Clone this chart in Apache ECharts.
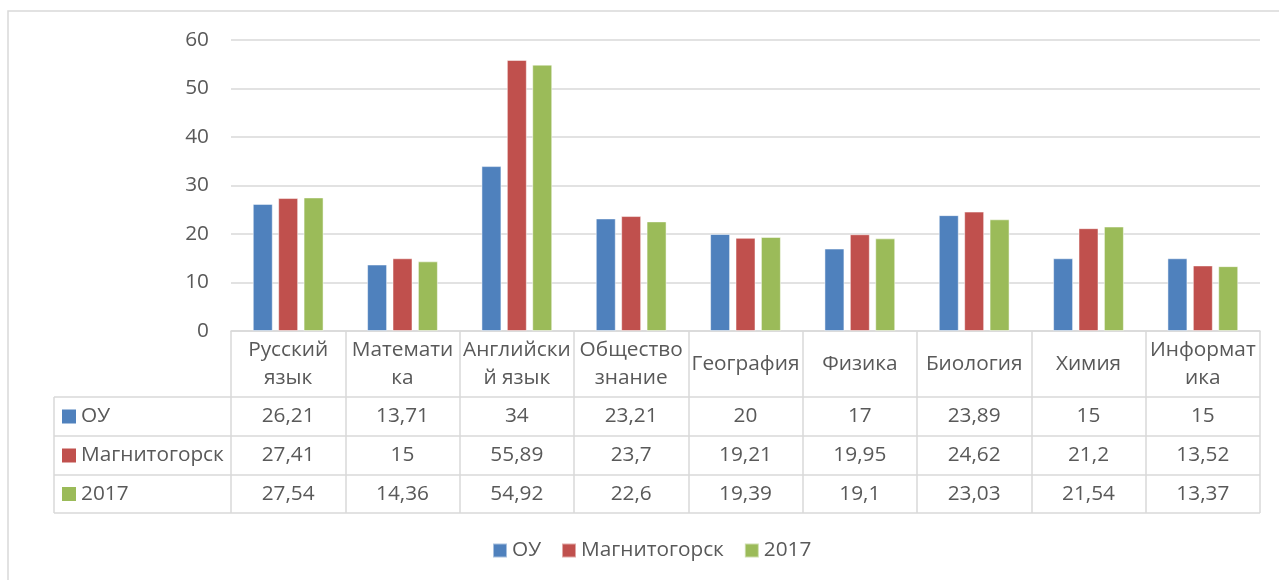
<!DOCTYPE html>
<html>
<head>
<meta charset="utf-8">
<script src="https://cdn.jsdelivr.net/npm/echarts@6/dist/echarts.min.js"></script>
<style>html,body{margin:0;padding:0;background:#fff}#c{width:1279px;height:580px}</style>
</head>
<body>
<div id="c"></div>
<script>
const categories = ['Русский\nязык', 'Математи\nка', 'Английски\nй язык', 'Общество\nзнание', 'География', 'Физика', 'Биология', 'Химия', 'Информат\nика'];
const seriesNames = ['ОУ', 'Магнитогорск', '2017'];
const valuesOU = [26.21, 13.71, 34, 23.21, 20, 17, 23.89, 15, 15];
const valuesMag = [27.41, 15, 55.89, 23.7, 19.21, 19.95, 24.62, 21.2, 13.52];
const values2017 = [27.54, 14.36, 54.92, 22.6, 19.39, 19.1, 23.03, 21.54, 13.37];
const colors = ['#4F81BD', '#C0504D', '#9BBB59'];
const yTicks = { min: 0, max: 60, interval: 10 };

const allValues = [valuesOU, valuesMag, values2017];
const FONT = '"Open Sans", sans-serif';
const TXT = '#595959';
const LINE = '#d9d9d9';
const FS = 20.8;

const chart = echarts.init(document.getElementById('c'), null, { renderer: 'canvas' });

const gridL = 231, gridR = 1260, axisY = 331;
const rowTop = [397, 436, 475];
const rowBot = 513;
const tableLeft = 54;

const fmt = v => String(v).replace('.', ',');

const extraAxes = allValues.map((vals, i) => ({
  type: 'category',
  gridIndex: 0,
  position: 'bottom',
  data: categories,
  axisLine: { show: false },
  axisTick: { show: false },
  splitLine: { show: false },
  axisLabel: {
    interval: 0,
    margin: (rowTop[i] + (i < 2 ? rowTop[i + 1] : rowBot)) / 2 - axisY,
    verticalAlign: 'middle',
    fontFamily: FONT, fontSize: FS, color: TXT,
    formatter: (val, idx) => fmt(vals[idx])
  }
}));

const graphics = [
  { type: 'rect', shape: { x: 8, y: 11, width: 1300, height: 620 }, style: { fill: 'none', stroke: LINE, lineWidth: 1.5 }, z: -1 },
  { type: 'line', shape: { x1: tableLeft, y1: rowTop[0], x2: tableLeft, y2: rowBot }, style: { stroke: LINE, lineWidth: 1.5 } }
];
rowTop.concat([rowBot]).forEach(y => {
  graphics.push({ type: 'line', shape: { x1: tableLeft, y1: y, x2: gridR, y2: y }, style: { stroke: LINE, lineWidth: 1.5 } });
});
seriesNames.forEach((n, i) => {
  const yc = (rowTop[i] + (i < 2 ? rowTop[i + 1] : rowBot)) / 2;
  graphics.push({ type: 'rect', shape: { x: 62, y: yc - 7, width: 14, height: 14 }, style: { fill: colors[i] } });
  graphics.push({ type: 'text', x: 81, y: yc, style: { text: n, fontFamily: FONT, fontSize: FS, fill: TXT, verticalAlign: 'middle', align: 'left' } });
});

chart.setOption({
  animation: false,
  textStyle: { fontFamily: FONT },
  grid: { left: gridL, right: 1279 - gridR, top: 40, bottom: 580 - axisY, containLabel: false },
  legend: {
    data: seriesNames,
    left: 487,
    top: 535,
    icon: 'rect',
    itemWidth: 14, itemHeight: 14, itemGap: 20,
    textStyle: { fontFamily: FONT, fontSize: FS, color: TXT }
  },
  xAxis: [{
    type: 'category',
    data: categories,
    axisLine: { show: true, lineStyle: { color: LINE, width: 1.5 } },
    axisTick: { show: true, length: rowBot - axisY, lineStyle: { color: LINE, width: 1.5 } },
    axisLabel: {
      interval: 0, margin: (axisY + rowTop[0]) / 2 - axisY, verticalAlign: 'middle',
      fontFamily: FONT, fontSize: FS, color: TXT, lineHeight: 28
    }
  }].concat(extraAxes),
  yAxis: {
    type: 'value',
    min: yTicks.min, max: yTicks.max, interval: yTicks.interval,
    axisLine: { show: false },
    axisTick: { show: false },
    splitLine: { lineStyle: { color: LINE, width: 1.5 } },
    axisLabel: { margin: 22, fontFamily: FONT, fontSize: FS, color: TXT }
  },
  graphic: graphics,
  series: allValues.map((vals, i) => ({
    name: seriesNames[i],
    type: 'bar',
    xAxisIndex: 0,
    data: vals,
    barWidth: 20,
    barGap: '27%',
    itemStyle: { color: colors[i], borderColor: 'rgba(255,255,255,0.5)', borderWidth: 1 }
  }))
});
</script>
</body>
</html>
